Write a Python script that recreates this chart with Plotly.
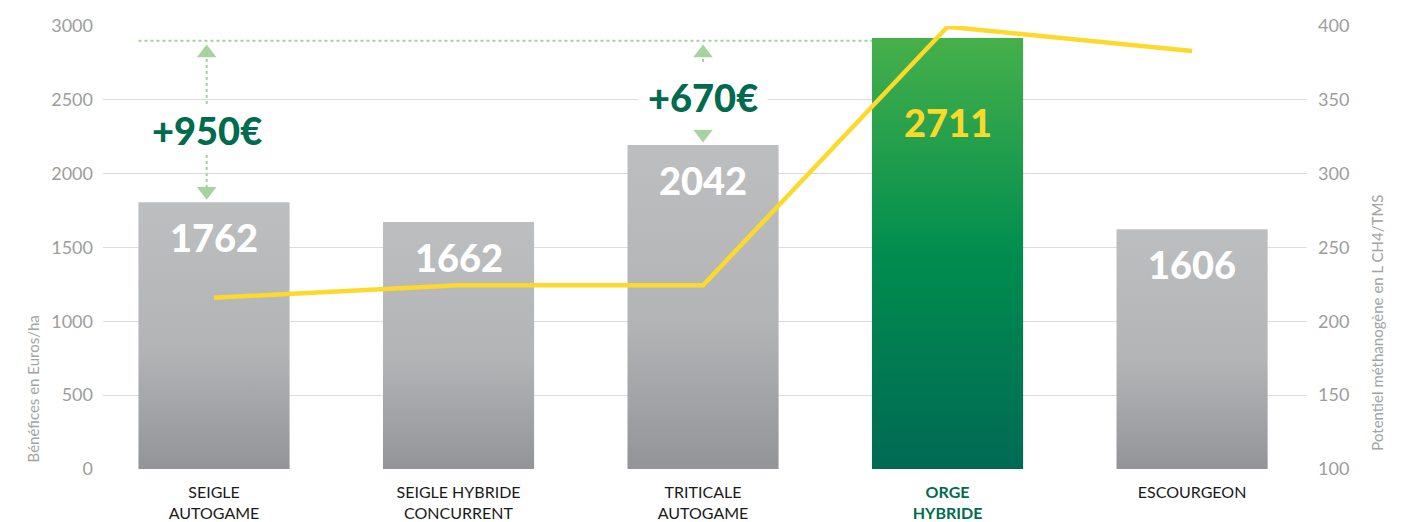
import plotly.graph_objects as go

# données
cultures = ['SEIGLE<br>AUTOGAME', 'SEIGLE HYBRIDE<br>CONCURRENT', 'TRITICALE<br>AUTOGAME',
            "<b><span style='color:#006b4f'>ORGE</span></b><br><b><span style='color:#006b4f'>HYBRIDE</span></b>",
            'ESCOURGEON']
benefices_barre = [1806, 1673, 2194, 2919, 1623]   # hauteur des barres
benefices_texte = ['1762', '1662', '2042', '2711', '1606']
potentiel = [216, 224.4, 224.4, 399.5, 383]
ecarts = ['+950€', '+670€']
ecart_idx = [0, 2]

GRIS = [[0, '#929497'], [0.45, '#b3b4b6'], [1, '#bdbec0']]
VERT = [[0, '#006a54'], [0.5, '#008d4f'], [1, '#46b04a']]
demi = 0.309

fig = go.Figure()

# barres (polygones avec dégradé vertical)
for i, v in enumerate(benefices_barre):
    fig.add_trace(go.Scatter(
        x=[i - demi, i + demi, i + demi, i - demi, i - demi],
        y=[0, 0, v, v, 0],
        mode='lines', line=dict(width=0), fill='toself',
        fillgradient=dict(type='vertical', colorscale=VERT if i == 3 else GRIS),
        hoverinfo='skip', showlegend=False))

# valeurs dans les barres
for i, v in enumerate(benefices_barre):
    fig.add_annotation(x=i, y=v, text=benefices_texte[i], showarrow=False,
                       yanchor='middle', yshift=-84 if i == 3 else -35,
                       font=dict(family='Lato', size=38, weight=900,
                                 color='#fbd92a' if i == 3 else 'white'))

# courbe potentiel méthanogène
fig.add_trace(go.Scatter(x=list(range(len(potentiel))), y=potentiel, yaxis='y2',
                         mode='lines', line=dict(color='#fcd92b', width=4.5),
                         hoverinfo='skip', showlegend=False))

# ligne de référence (orge hybride)
niveau = benefices_barre[3] - 19
fig.add_shape(type='line', x0=-demi, x1=3 - demi, y0=niveau, y1=niveau,
              line=dict(color='#9fd39a', width=2, dash='dot'), layer='above')

# flèches d'écart
for k, i in enumerate(ecart_idx):
    xa = i - 0.03 if i == 0 else i
    haut = niveau - 82
    bas = benefices_barre[i] + 75
    fig.add_shape(type='line', x0=xa, x1=xa, y0=haut, y1=bas,
                  line=dict(color='#9fd39a', width=2, dash='dot'), layer='above')
    fig.add_trace(go.Scatter(x=[xa, xa], y=[haut, bas], mode='markers',
                             marker=dict(symbol=['triangle-up', 'triangle-down'], size=17,
                                         color='#a5d49e', line=dict(width=0)),
                             hoverinfo='skip', showlegend=False))
    ytxt = 2296 if i == 0 else 2519
    fig.add_annotation(x=xa, y=ytxt, text=ecarts[k], showarrow=False,
                       bgcolor='white', borderpad=0 if i == 0 else 9,
                       font=dict(family='Lato', size=38, weight=900, color='#006b4f'))

# titres des axes
fig.add_annotation(xref='paper', yref='paper', x=-0.058, y=0.18, text='Bénéfices en Euros/ha',
                   textangle=-90, showarrow=False, xanchor='center', yanchor='middle',
                   font=dict(family='Lato', size=15, color='#a3a3a3'))
fig.add_annotation(xref='paper', yref='paper', x=1.058, y=0.33,
                   text='Potentiel méthanogène en L CH4/TMS',
                   textangle=-90, showarrow=False, xanchor='center', yanchor='middle',
                   font=dict(family='Lato', size=15, color='#a3a3a3'))

fig.update_layout(
    width=1417, height=522,
    margin=dict(l=103, r=110, t=26, b=53),
    plot_bgcolor='white', paper_bgcolor='white',
    font=dict(family='Lato'),
    xaxis=dict(range=[-0.454, 4.47], tickvals=list(range(len(cultures))), ticktext=cultures,
               showgrid=False, zeroline=False, showline=False, ticks='',
               ticklabelstandoff=12, automargin=False,
               tickfont=dict(family='Lato', size=16, color='#1a1a1a')),
    yaxis=dict(range=[0, 3000], tickvals=[0, 500, 1000, 1500, 2000, 2500, 3000],
               showgrid=True, gridcolor='#dcdcdc', gridwidth=1.3, zeroline=False,
               showline=False, ticks='', ticklabelstandoff=9, automargin=False,
               tickfont=dict(family='Lato', size=18, color='#9d9d9d')),
    yaxis2=dict(range=[100, 400], tickvals=[100, 150, 200, 250, 300, 350, 400],
                overlaying='y', side='right', showgrid=False, zeroline=False,
                showline=False, ticks='', ticklabelstandoff=10, automargin=False,
                tickfont=dict(family='Lato', size=18, color='#9d9d9d')),
    showlegend=False,
)

fig.write_html("out.html", config={'displayModeBar': False},
               post_script="document.body.style.margin='0';")
